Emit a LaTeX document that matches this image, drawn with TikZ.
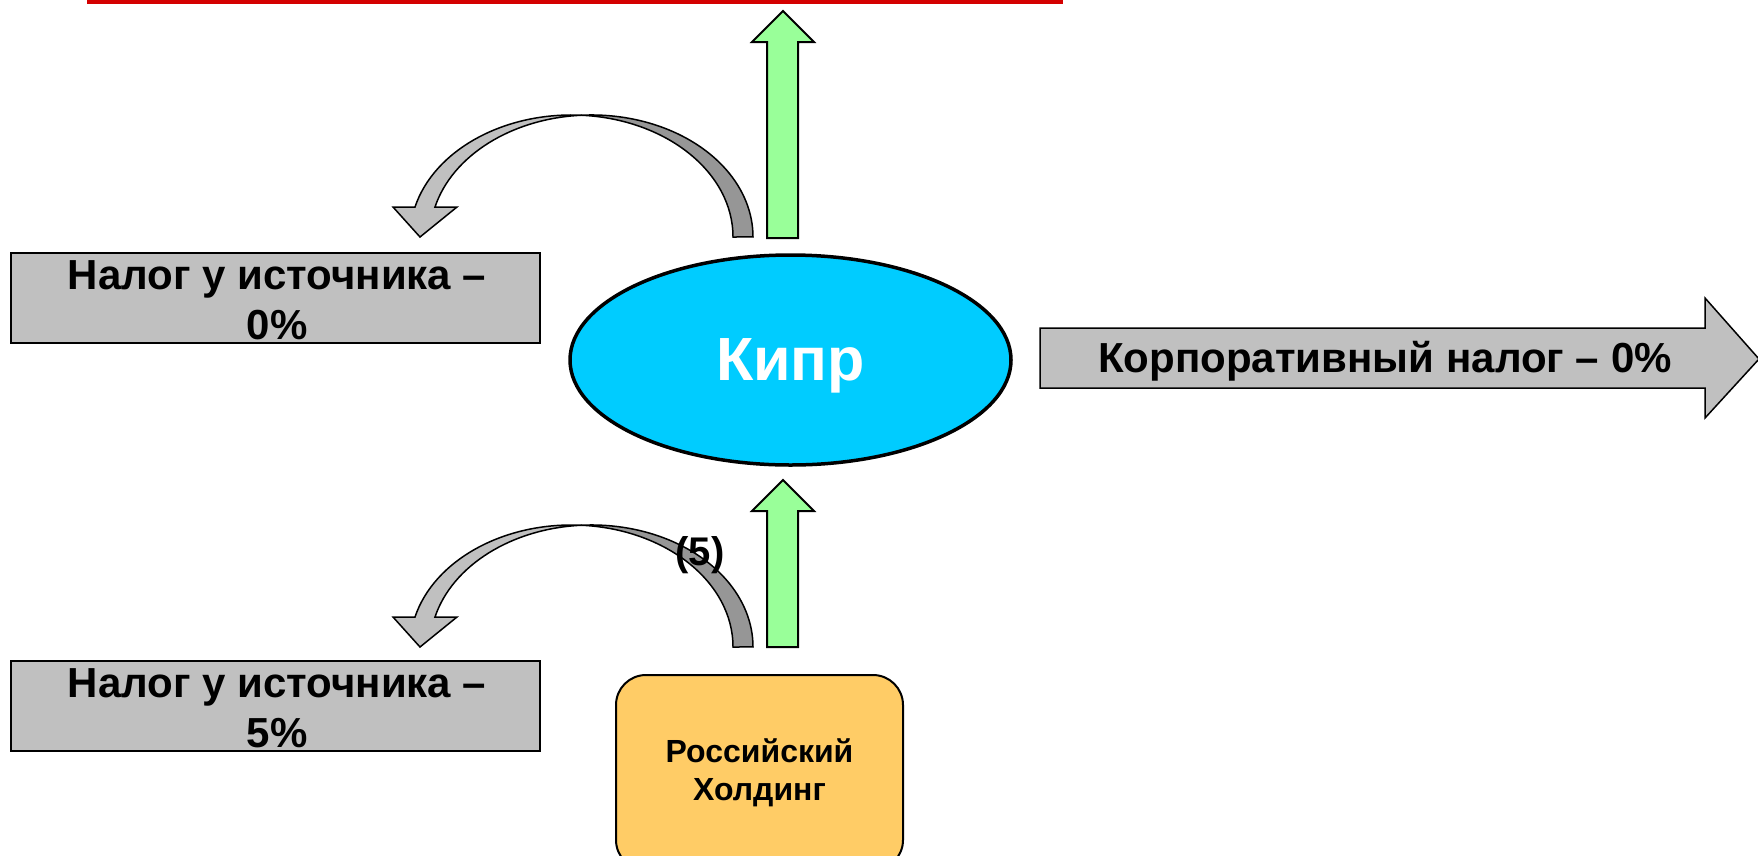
\documentclass[tikz,border=0pt]{standalone}
\usepackage{fontspec}
\setmainfont{Liberation Sans}
\usetikzlibrary{shapes.geometric}
\definecolor{boxgray}{HTML}{C0C0C0}
\definecolor{shadegray}{HTML}{969696}
\definecolor{cyprus}{HTML}{00CCFF}
\definecolor{greenarr}{HTML}{99FF99}
\definecolor{holding}{HTML}{FFCC66}
\definecolor{redline}{HTML}{D40000}
\begin{document}
\begin{tikzpicture}[x=1pt,y=-1pt,
  taxbox/.style={draw=black, line width=2.5pt, fill=boxgray, minimum width=529pt,
    minimum height=90pt, inner sep=0pt},
  taxtext/.style={align=center, inner sep=0pt,
    font=\fontsize{42}{50}\selectfont\bfseries},
  greenarrow/.style={draw=black, line width=2pt, fill=greenarr, line join=miter},
  curvlight/.style={draw=black, line width=1.5pt, fill=boxgray, line join=miter},
  curvdark/.style={draw=black, line width=1.5pt, fill=shadegray},
  bigarrow/.style={draw=black, line width=1.5pt, fill=boxgray, line join=miter}]
\useasboundingbox (0,0) rectangle (1758,855);

% red line at top
\fill[redline] (87,0) rectangle (1063,4);

% curved arrows (top and bottom)
\foreach \dy in {0,410}{
  \begin{scope}[shift={(0,\dy)}]
    \draw[curvdark] (581.5,115.2)
      arc[start angle=266.45, end angle=360, x radius=161.5, y radius=122]
      -- (733,237)
      arc[start angle=0, end angle=-86.45, x radius=161.5, y radius=122] -- cycle;
    \draw[curvlight] (393,207) -- (415,207)
      arc[start angle=194.23, end angle=273.55, x radius=161.5, y radius=122]
      arc[start angle=266.45, end angle=194.23, x radius=161.5, y radius=122]
      -- (457,207) -- (420,237) -- cycle;
  \end{scope}
}

% tax boxes
\node[taxbox] (tax0) at (275.5,298) {};
\node[taxtext] (tax0t) at (277,300) {Налог у источника –\\0\%};
\node[taxbox] (tax5) at (275.5,706) {};
\node[taxtext] (tax5t) at (277,708) {Налог у источника –\\5\%};

% Cyprus ellipse
\node[ellipse, draw=black, line width=3.5pt, fill=cyprus, minimum width=441pt,
  minimum height=210pt, inner sep=0pt, text=white, text depth=0pt,
  font=\fontsize{61}{70}\selectfont\bfseries] (kipr) at (790.5,360) {Кипр};

% Russian holding
\node[draw=black, line width=2pt, fill=holding, rounded corners=30pt,
  minimum width=287pt, minimum height=195pt, inner sep=0pt, align=center,
  font=\fontsize{32}{38}\selectfont\bfseries] (hold) at (759.5,772.5)
  {Российский\\Холдинг};

% green arrows
\draw[greenarrow] (767,238) -- (767,42) -- (752,42) -- (783,11) -- (814,42)
  -- (798,42) -- (798,238) -- cycle;
\draw[greenarrow] (767,647) -- (767,511) -- (752,511) -- (783,480) -- (814,511)
  -- (798,511) -- (798,647) -- cycle;

% right block arrow
\draw[bigarrow] (1040,328) -- (1705,328) -- (1705,298) -- (1759,359)
  -- (1705,418) -- (1705,388) -- (1040,388) -- cycle;
\node[font=\fontsize{42}{50}\selectfont\bfseries] (corp) at (1385,361)
  {Корпоративный налог – 0\%};

% label (5)
\node[font=\fontsize{40}{48}\selectfont\bfseries, anchor=base] (five) at (700,565) {(5)};
\end{tikzpicture}
\end{document}
